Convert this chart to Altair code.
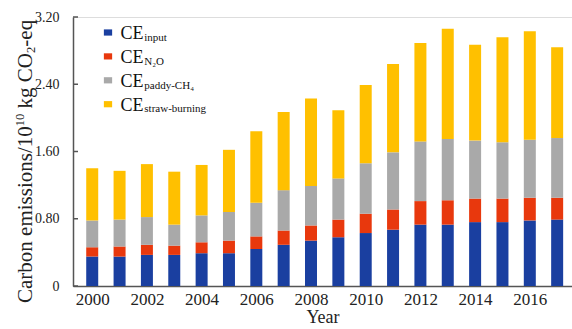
import altair as alt
import pandas as pd

# Annual carbon emissions by source (10^10 kg CO2-eq)
years = list(range(2000, 2018))
ce_input = [0.35, 0.35, 0.37, 0.37, 0.39, 0.39, 0.44, 0.49, 0.54, 0.58,
            0.63, 0.67, 0.73, 0.73, 0.76, 0.76, 0.78, 0.79]
ce_n2o = [0.11, 0.12, 0.12, 0.11, 0.13, 0.15, 0.15, 0.17, 0.18, 0.21,
          0.23, 0.24, 0.28, 0.29, 0.28, 0.28, 0.27, 0.26]
ce_ch4 = [0.32, 0.32, 0.33, 0.25, 0.32, 0.34, 0.40, 0.48, 0.47, 0.49,
          0.60, 0.68, 0.71, 0.73, 0.69, 0.67, 0.69, 0.71]
ce_straw = [0.62, 0.58, 0.63, 0.63, 0.60, 0.74, 0.85, 0.93, 1.04, 0.81,
            0.93, 1.05, 1.17, 1.31, 1.14, 1.25, 1.29, 1.08]

components = ["input", "N2O", "paddy-CH4", "straw-burning"]
colors = ["#1a3fa0", "#e8380d", "#a9a9a9", "#ffc000"]
legend_sub = ["input", "N₂O", "paddy-CH₄", "straw-burning"]

y_ticks = [0, 0.8, 1.6, 2.4, 3.2]
x_ticks = [2000, 2002, 2004, 2006, 2008, 2010, 2012, 2014, 2016]

FONT = "Liberation Serif"
AXIS_COLOR = "#555555"
TEXT_COLOR = "#222222"

rows = []
for series, name in zip([ce_input, ce_n2o, ce_ch4, ce_straw], components):
    for yr, v in zip(years, series):
        rows.append({"year": yr, "component": name, "value": v,
                     "order": components.index(name)})
df = pd.DataFrame(rows)

x_scale = alt.Scale(domain=[1999.48, 2017.36], nice=False, zero=False)
y_scale = alt.Scale(domain=[0, 3.2], nice=False)
color_scale = alt.Scale(domain=components, range=colors)

bars = alt.Chart(df).mark_bar(size=12).encode(
    x=alt.X("year:Q", scale=x_scale,
            axis=alt.Axis(values=x_ticks, format="d", title="Year",
                          ticks=False, grid=False, labelFontSize=17,
                          labelPadding=5, titleFontSize=18,
                          titleFontWeight="normal", titlePadding=1,
                          labelColor=TEXT_COLOR, titleColor=TEXT_COLOR,
                          domainColor=AXIS_COLOR, domainWidth=1.5,
                          labelFont=FONT, titleFont=FONT)),
    y=alt.Y("value:Q", stack="zero", scale=y_scale,
            axis=alt.Axis(values=y_ticks, ticks=False, grid=False,
                          labelExpr="datum.value == 0 ? '0' : format(datum.value, '.2f')",
                          title=None,
                          labelFontSize=14, labelPadding=14,
                          labelColor=TEXT_COLOR,
                          domainColor=AXIS_COLOR, domainWidth=1.5,
                          labelFont=FONT)),
    color=alt.Color("component:N", scale=color_scale, legend=None),
    order=alt.Order("order:Q", sort="ascending"),
)

# inward tick marks on the value axis
tick_df = pd.DataFrame({"v": y_ticks})
ticks = alt.Chart(tick_df).mark_rule(color=AXIS_COLOR, strokeWidth=1.5).encode(
    y=alt.Y("v:Q", scale=y_scale, axis=None),
    x=alt.value(0),
    x2=alt.value(5),
)

# hand-built legend with subscripted labels
leg_df = pd.DataFrame({
    "component": components,
    "sub": legend_sub,
    "row": [0, 1, 2, 3],
})
leg_y = alt.Y("row:Q", scale=alt.Scale(domain=[0, 3], range=[15.5, 87.2]),
              axis=None)
leg_sq = alt.Chart(leg_df).mark_point(
    filled=True, opacity=1, size=190,
    shape="M-0.6,-0.45H0.6V0.45H-0.6Z"
).encode(
    x=alt.value(35),
    y=leg_y,
    color=alt.Color("component:N", scale=color_scale, legend=None),
)
leg_ce = alt.Chart(leg_df).mark_text(
    text="CE", font=FONT, fontSize=18, align="left", baseline="alphabetic",
    dy=6.8, color="#111111"
).encode(x=alt.value(47.5), y=leg_y)
leg_sub = alt.Chart(leg_df).mark_text(
    font=FONT, fontSize=11, align="left", baseline="alphabetic",
    dy=8.2, color="#111111"
).encode(x=alt.value(71.3), y=leg_y, text="sub:N")

# value-axis title with a superscript exponent and a subscript, set piece by
# piece along the rotated baseline (Times advance widths, em units);
# each piece: text, size, advance before, advance of text, baseline shift
T_SIZE = 21
T_SMALL = 12.6
T_BASE_X = -41.5
pieces = [
    ("Carbon emissions/10", T_SIZE, 0.0, 8.417, 0),
    ("10", T_SMALL, 0.0, 1.0, -7.7),
    ("kg CO", T_SIZE, 0.25, 2.639, 0),
    ("2", T_SMALL, 0.0, 0.5, 3.6),
    ("-eq", T_SIZE, 0.0, 1.277, 0),
]
title_layers = []
pos = 286.0
for txt, fs, pre, em, shift in pieces:
    pos -= pre * fs
    title_layers.append(
        alt.Chart(leg_df.head(1)).mark_text(
            text=txt, font=FONT, fontSize=fs, angle=270, align="left",
            baseline="alphabetic", color=TEXT_COLOR
        ).encode(x=alt.value(T_BASE_X + shift), y=alt.value(pos))
    )
    pos -= em * fs

chart = alt.layer(bars, ticks, leg_sq, leg_ce, leg_sub, *title_layers).resolve_scale(
    y="independent", color="shared"
).properties(
    width=499, height=269,
    padding={"left": 73, "top": 17, "right": 0, "bottom": 43},
    autosize="none",
).configure_view(stroke=None).configure(background="white")

chart.save("out.html", embed_options={"renderer": "svg", "actions": False})
